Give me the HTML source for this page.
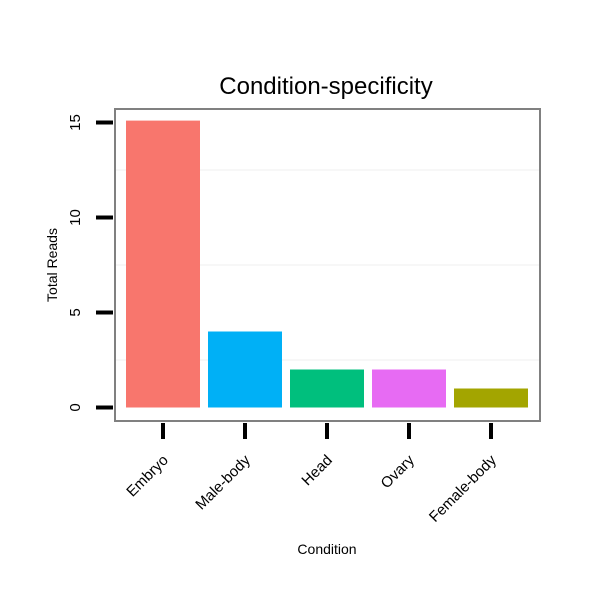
<!DOCTYPE html>
<html><head><meta charset="utf-8"><style>body{margin:0;background:#fff}svg{display:block;font-family:"Liberation Sans",sans-serif}</style></head>
<body>
<svg id="chart" width="600" height="600">
<rect width="600" height="600" fill="#fff"/>
<text x="326" y="94" font-size="24" text-anchor="middle">Condition-specificity</text>
<text x="0" y="0" font-size="14" text-anchor="middle" transform="translate(57,265) rotate(-90)">Total Reads</text>
<text x="327" y="554" font-size="14" text-anchor="middle">Condition</text>
<g id="grid"></g><g id="bars"></g><g id="axes"></g>
<rect x="115" y="109" width="425" height="312" fill="none" stroke="#808080" stroke-width="2"/>
</svg>
<script>
const categories=["Embryo","Male-body","Head","Ovary","Female-body"];
const values=[15.1,4,2,2,1];
const colors=["#F8766D","#00B0F6","#00BF7D","#E76BF3","#A3A500"];
const yTicks=[0,5,10,15];
const yMinor=[2.5,7.5,12.5];
const NS="http://www.w3.org/2000/svg";
const y=v=>407.5-v*19;
const xc=i=>163+i*82;
const bw=74;
function mk(t,a,p){const e=document.createElementNS(NS,t);for(const k in a)e.setAttribute(k,a[k]);p.appendChild(e);return e;}
const grid=document.getElementById('grid'),bars=document.getElementById('bars'),axes=document.getElementById('axes');
yMinor.forEach(v=>{const l=mk('line',{x1:116,x2:539,y1:y(v),y2:y(v),stroke:'#f7f7f7','stroke-width':2},grid);

});
values.forEach((v,i)=>{const r=mk('rect',{x:xc(i)-bw/2,y:y(v),width:bw,height:y(0)-y(v),fill:colors[i]},bars);

});
yTicks.forEach(v=>{const l=mk('line',{x1:96,x2:113,y1:y(v),y2:y(v),stroke:'#000','stroke-width':4},axes);


const t=mk('text',{'font-size':15,'text-anchor':'middle',transform:`translate(80,${y(v)}) rotate(-90)`},axes);t.textContent=v;

});
categories.forEach((c,i)=>{const l=mk('line',{x1:xc(i),x2:xc(i),y1:423,y2:439,stroke:'#000','stroke-width':4},axes);


const t=mk('text',{'font-size':15,'text-anchor':'end',transform:`translate(${xc(i)+6},${461}) rotate(-45)`},axes);t.textContent=c;

});
</script>
</body></html>
